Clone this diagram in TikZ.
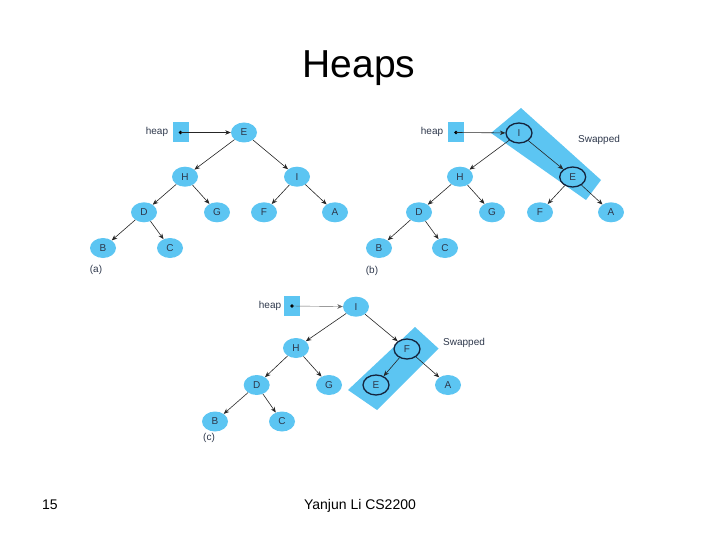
\documentclass[tikz,border=0pt]{standalone}
\usepackage{fontspec}
\setmainfont{Liberation Sans}
\usetikzlibrary{shapes.geometric,arrows.meta}
\definecolor{nodeblue}{RGB}{92,197,242}
\definecolor{labcol}{RGB}{45,55,75}
\definecolor{ringcol}{RGB}{20,35,60}
\tikzset{
  hn/.style={ellipse,fill=nodeblue,minimum width=26pt,minimum height=20pt,inner sep=0pt,
    font=\fontsize{10}{10}\selectfont,text=labcol},
  hl/.style={hn,draw=ringcol,line width=1.3pt},
  sq/.style={rectangle,fill=nodeblue,minimum width=16pt,minimum height=20pt,inner sep=0pt},
  lab/.style={font=\fontsize{10}{10}\selectfont,text=labcol,inner sep=0pt},
  edge/.style={-{Stealth[length=5.5pt,width=4.5pt]},line width=0.6pt,draw=black!85},
  band/.style={fill=nodeblue}
}
\begin{document}
\begin{tikzpicture}[x=1pt,y=-1pt]
\useasboundingbox (0,0) rectangle (720,540);
\node[font=\fontsize{39}{39}\selectfont,anchor=base] (title) at (359,78) {Heaps};
\node[font=\fontsize{14}{14}\selectfont,anchor=base] (pg) at (50,509) {15};
\node[font=\fontsize{14}{14}\selectfont,anchor=base] (ft) at (360,509) {Yanjun Li CS2200};

% ---------------- (a)
\node[sq] (asq) at (180.5,132.5) {};
\node[lab] (aheap) at (157,132) {heap};
\node[hn] (aE) at (244,132.5) {E};
\node[hn] (aH) at (185,176.7) {H};
\node[hn] (aI) at (297,176.7) {I};
\node[hn] (aD) at (144,212.3) {D};
\node[hn] (aG) at (217,212.3) {G};
\node[hn] (aF) at (264,212.3) {F};
\node[hn] (aA) at (335,212.3) {A};
\node[hn] (aB) at (103,248) {B};
\node[hn] (aC) at (170,248) {C};
\node[lab] (alab) at (96,270) {(a)};
\fill[black] (asq.center) circle (1.8pt);
\draw[edge] (asq.center) -- (aE);
\draw[edge] (aE) -- (aH);
\draw[edge] (aE) -- (aI);
\draw[edge] (aH) -- (aD);
\draw[edge] (aH) -- (aG);
\draw[edge] (aI) -- (aF);
\draw[edge] (aI) -- (aA);
\draw[edge] (aD) -- (aB);
\draw[edge] (aD) -- (aC);

% ---------------- (b)
\fill[band] (491,133) -- (521,108) -- (601,180) -- (586,200) -- cycle;
\node[sq] (bsq) at (456,132.5) {};
\node[lab] (bheap) at (432,132) {heap};
\node[hl] (bI) at (519,133) {I};
\node[hn] (bH) at (460,176.7) {H};
\node[hl] (bE) at (572.7,177) {E};
\node[hn] (bD) at (419,212.3) {D};
\node[hn] (bG) at (492,212.3) {G};
\node[hn] (bF) at (540,212.3) {F};
\node[hn] (bA) at (611,212.3) {A};
\node[hn] (bB) at (379,248) {B};
\node[hn] (bC) at (445,248) {C};
\node[lab] (blab) at (372,271) {(b)};
\node[lab,anchor=west] (bsw) at (578,140) {Swapped};
\fill[black] (bsq.center) circle (1.8pt);
\draw[edge] (bsq.center) -- (bI);
\draw[edge] (bI) -- (bH);
\draw[edge] (bI) -- (bE);
\draw[edge] (bH) -- (bD);
\draw[edge] (bH) -- (bG);
\draw[edge] (bE) -- (bF);
\draw[edge] (bE) -- (bA);
\draw[edge] (bD) -- (bB);
\draw[edge] (bD) -- (bC);

% ---------------- (c)
\fill[band] (348,390) -- (415,327) -- (438.5,348.5) -- (377,410) -- cycle;
\node[sq] (csq) at (292,306) {};
\node[lab] (cheap) at (270,306) {heap};
\node[hn] (cI) at (356,306.7) {I};
\node[hn] (cH) at (296,348) {H};
\node[hl] (cF) at (407,349) {F};
\node[hn] (cD) at (256.7,385) {D};
\node[hn] (cG) at (329,385) {G};
\node[hl] (cE) at (376,385) {E};
\node[hn] (cA) at (448,385) {A};
\node[hn] (cB) at (215,421.5) {B};
\node[hn] (cC) at (282,421.5) {C};
\node[lab] (clab) at (209,438) {(c)};
\node[lab,anchor=west] (csw) at (443,343) {Swapped};
\fill[black] (csq.center) circle (1.8pt);
\draw[edge,draw=black!60,line width=0.4pt] (csq.center) -- (cI);
\draw[edge] (cI) -- (cH);
\draw[edge] (cI) -- (cF);
\draw[edge] (cH) -- (cD);
\draw[edge] (cH) -- (cG);
\draw[edge] (cF) -- (cE);
\draw[edge] (cF) -- (cA);
\draw[edge] (cD) -- (cB);
\draw[edge] (cD) -- (cC);
\end{tikzpicture}
\end{document}
